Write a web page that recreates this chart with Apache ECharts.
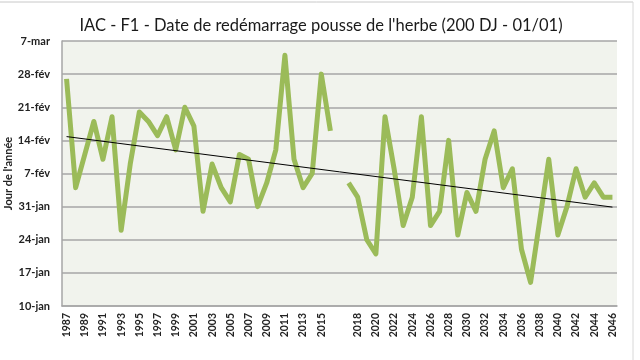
<!DOCTYPE html>
<html><head><meta charset="utf-8">
<script src="https://cdn.jsdelivr.net/npm/echarts@6/dist/echarts.min.js"></script>
<style>html,body{margin:0;padding:0;background:#fff}#c{width:640px;height:360px}</style>
</head><body><div id="c"></div>
<script>
// Categories (blank category between 2016 and 2017)
var years = ['1987','1988','1989','1990','1991','1992','1993','1994','1995','1996','1997','1998','1999','2000','2001','2002','2003','2004','2005','2006','2007','2008','2009','2010','2011','2012','2013','2014','2015','2016','',
  '2017','2018','2019','2020','2021','2022','2023','2024','2025','2026','2027','2028','2029','2030','2031','2032','2033','2034','2035','2036','2037','2038','2039','2040','2041','2042','2043','2044','2045','2046'];
// Day of year of regrowth start
var growthDay = [58,35,42,49,41,50,26,40,51,49,46,50,43,52,48,30,40,35,32,42,41,31,36,43,63,41,35,38,59,47,null,
  36,33,24,21,50,39,27,33,50,27,30,45,25,34,30,41,47,35,39,22,15,28,41,25,31,39,33,36,33,33];
// Linear trend end points (day of year)
var trendStart = 45.8;
var trendEnd = 30.9;
// Y tick labels (day of year 10 .. 66, step 7)
var yTickLabels = ['10-jan','17-jan','24-jan','31-jan','7-fév','14-fév','21-fév','28-fév','7-mar'];
var yBaseDay = 10;

var growthSeries = growthDay.map(function(v){ return v === null ? null : v - yBaseDay; });
var trendSeries = years.map(function(y, i){
  if (i === 0) return trendStart - yBaseDay;
  if (i === years.length - 1) return trendEnd - yBaseDay;
  return null;
});

var chart = echarts.init(document.getElementById('c'));
var font = 'Lato, "Open Sans", sans-serif';
chart.setOption({
  animation: false,
  backgroundColor: '#ffffff',
  title: {
    text: "IAC - F1 - Date de redémarrage pousse de l'herbe (200 DJ - 01/01)",
    left: 316, top: 12, textAlign: 'center',
    textStyle: { fontFamily: font, fontSize: 16.5, fontWeight: 'normal', color: '#1a1a1a' }
  },
  graphic: [
    { type: 'line', shape: { x1: 0, y1: 2, x2: 633, y2: 2 }, style: { stroke: '#c8c8c8', lineWidth: 1 } },
    { type: 'line', shape: { x1: 633, y1: 2, x2: 633, y2: 360 }, style: { stroke: '#d8d8d8', lineWidth: 1 } }
  ],
  grid: { left: 62, right: 23, top: 41, bottom: 54, show: true, backgroundColor: '#f1f3ed', borderWidth: 0,
    containLabel: false, outerBoundsMode: 'none' },
  xAxis: {
    type: 'category', data: years, boundaryGap: true,
    axisLine: { show: true, lineStyle: { color: '#a6a6a6', width: 1.5 } },
    axisTick: { show: false },
    axisLabel: { interval: 1, rotate: 90, fontFamily: font, fontSize: 10.5, fontWeight: 'bold', color: '#222', margin: 7 }
  },
  yAxis: {
    type: 'value', min: 0, max: 56, interval: 7,
    name: "Jour de l'année", nameLocation: 'middle', nameGap: 48, nameRotate: 90, nameMoveOverlap: false,
    nameTextStyle: { fontFamily: font, fontSize: 11, fontWeight: 'bold', color: '#222' },
    axisLine: { show: true, lineStyle: { color: '#a6a6a6', width: 1.5 } },
    axisTick: { show: false },
    splitLine: { show: true, lineStyle: { color: '#a6a6a6', width: 1.5 } },
    axisLabel: {
      fontFamily: font, fontSize: 11, fontWeight: 'bold', color: '#222', margin: 12,
      formatter: function(v){ return yTickLabels[Math.round(v / 7)]; }
    }
  },
  series: [
    { type: 'line', data: growthSeries, symbol: 'none', connectNulls: false,
      lineStyle: { color: '#9bbb59', width: 5, join: 'round' }, z: 2 },
    { type: 'line', data: trendSeries, symbol: 'none', connectNulls: true,
      lineStyle: { color: '#000000', width: 1 }, z: 3 }
  ]
});
</script></body></html>
